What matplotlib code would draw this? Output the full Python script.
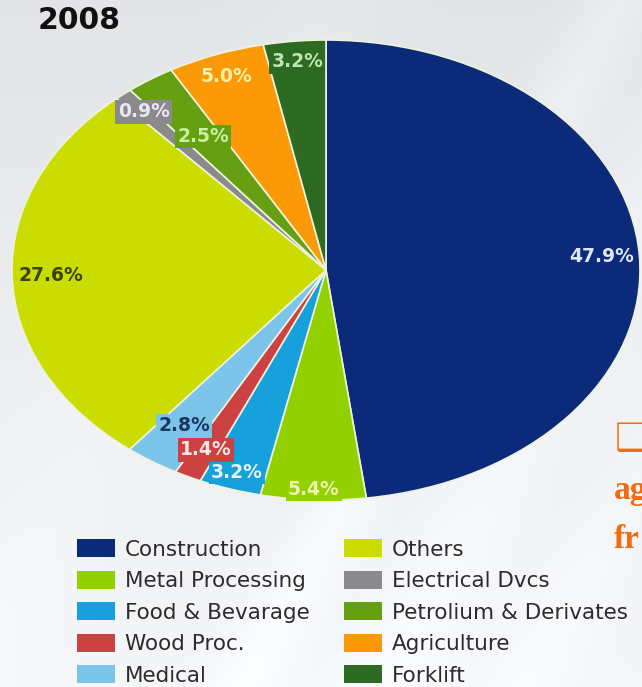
import numpy as np
import matplotlib
matplotlib.use("Agg")
import matplotlib.pyplot as plt
from matplotlib.patches import Patch

# ---- data ----
categories = ["Construction", "Metal Processing", "Food & Bevarage", "Wood Proc.", "Medical",
              "Others", "Electrical Dvcs", "Petrolium & Derivates", "Agriculture", "Forklift"]
values = [47.9, 5.4, 3.2, 1.4, 2.8, 27.6, 0.9, 2.5, 5.0, 3.2]
title = "2008"

# ---- style ----
colors = ["#0b2a7a", "#92d000", "#16a0dc", "#cc4242", "#7cc4ea",
          "#cbdc00", "#8a8a8c", "#66a012", "#fb9a06", "#2d6a22"]
label_r = [0.88, 0.953, 0.926, 0.871, 0.815, 0.875, 0.90, 0.70, 0.90, 0.91]
label_tc = ["#dfe6f5", "#eef6b0", "#e6f4fc", "#fbe6e6", "#1d3660",
            "#3a4200", "#e8e8f2", "#c9f0a0", "#fff2a8", "#c0e6b0"]

W, H = 642, 687
fig = plt.figure(figsize=(W / 100, H / 100), dpi=100)

# background: light slide gradient with soft diagonal streaks
bg = fig.add_axes([0, 0, 1, 1], zorder=0)
yy, xx = np.mgrid[0:H, 0:W]
lum = 0.90 + 0.07 * (yy / H)
for c, wdt, amp in [(620, 40, 0.03), (760, 60, 0.025), (900, 50, 0.02), (330, 70, 0.015)]:
    lum += amp * np.exp(-((xx + 0.55 * yy - c) / wdt) ** 2)
lum = np.clip(lum, 0, 1)
img = np.dstack([lum - 0.01, lum - 0.004, lum + 0.006])
img = np.clip(img, 0, 1)
bg.imshow(img, extent=(0, W, 0, H), origin="upper", aspect="auto")
bg.set_xlim(0, W); bg.set_ylim(0, H)
bg.axis("off")

# pie (elliptical, as in the stretched reference)
ax = fig.add_axes([12 / W, (H - 500) / H, 628 / W, 460 / H], zorder=1)
ax.patch.set_alpha(0)
wedges, _ = ax.pie(values, colors=colors, startangle=90, counterclock=False, radius=1,
                   wedgeprops=dict(edgecolor="#eef3dc", linewidth=1.2))
ax.set_aspect("auto")
ax.set_xlim(-1, 1)
ax.set_ylim(-1, 1)
ax.axis("off")

for w, v, r, tc in zip(wedges, values, label_r, label_tc):
    th = np.deg2rad((w.theta1 + w.theta2) / 2)
    ax.text(r * np.cos(th), r * np.sin(th), f"{v:.1f}%", ha="center", va="center",
            fontsize=13.5, fontweight="bold", color=tc, family="DejaVu Sans",
            bbox=dict(boxstyle="square,pad=0.12", fc=w.get_facecolor(), ec="none"))

# title
fig.text(38 / W, 1 - 6 / H, title, ha="left", va="top", fontsize=21.5,
         fontweight="bold", color="#111111", family="DejaVu Sans")

# legend
handles = [Patch(facecolor=c, edgecolor="none") for c in colors]
fs = 15.5
px = fs * 100 / 72
fig.legend(handles, categories, ncol=2, loc="upper left",
           bbox_to_anchor=(77 / W, 1 - 539 / H), frameon=False,
           prop=dict(family="DejaVu Sans", size=fs),
           labelcolor="#2c2c2c",
           handlelength=38 / px, handleheight=20 / px, handletextpad=10 / px,
           columnspacing=1.6, labelspacing=0.51, borderpad=0, borderaxespad=0)

# clipped slide text at right edge
orange = "#f26b0f"
fig.text(615 / W, 1 - 422 / H, "\u2751", ha="left", va="top", fontsize=27,
         color=orange, family="DejaVu Sans", fontweight="bold")
fig.text(614 / W, 1 - 499 / H, "ag", ha="left", va="baseline", fontsize=24,
         fontweight="bold", color=orange, family="Liberation Serif")
fig.text(614 / W, 1 - 548 / H, "fr", ha="left", va="baseline", fontsize=24,
         fontweight="bold", color=orange, family="Liberation Serif")

fig.savefig("out.png", dpi=100)
